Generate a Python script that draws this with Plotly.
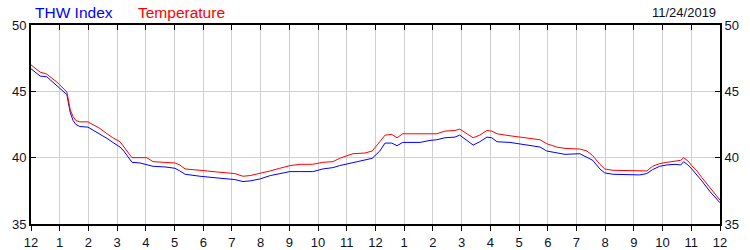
import plotly.graph_objects as go

# minutes since 12 (noon) of the 24-hour window
minutes = [0, 19, 33, 54, 71, 75, 82, 88, 94, 102, 119, 134, 144, 159, 171, 186, 194, 203, 211,
           228, 242, 255, 280, 301, 311, 322, 353, 374, 395, 426, 443, 458, 479, 500, 520, 541,
           562, 589, 610, 631, 645, 673, 698, 713, 729, 740, 754, 765, 777, 813, 834, 848, 865,
           886, 896, 911, 924, 938, 953, 963, 974, 1001, 1022, 1043, 1064, 1078, 1099, 1116,
           1147, 1162, 1174, 1189, 1199, 1216, 1258, 1272, 1287, 1299, 1314, 1329, 1346, 1358,
           1364, 1373, 1381, 1392, 1402, 1419, 1440]

temperature = [47.0, 46.45, 46.3, 45.7, 45.1, 44.95, 43.6, 43.1, 42.8, 42.7, 42.7, 42.4, 42.2,
               41.8, 41.5, 41.2, 40.8, 40.4, 40.0, 40.0, 40.0, 39.7, 39.65, 39.6, 39.45, 39.15,
               39.05, 39.0, 38.9, 38.8, 38.6, 38.65, 38.8, 39.0, 39.2, 39.4, 39.5, 39.5, 39.65,
               39.7, 39.95, 40.3, 40.35, 40.5, 41.2, 41.7, 41.75, 41.5, 41.8, 41.8, 41.85, 41.8,
               42.0, 42.05, 42.15, 41.8, 41.5, 41.7, 42.05, 42.0, 41.8, 41.65, 41.55, 41.4, 41.35,
               41.05, 40.8, 40.7, 40.65, 40.5, 40.15, 39.5, 39.15, 39.05, 39.05, 39.0, 39.0,
               39.35, 39.55, 39.65, 39.75, 39.8, 40.0, 39.75, 39.4, 39.0, 38.5, 37.7, 36.8]

thw_index = [46.7, 46.15, 46.1, 45.45, 44.85, 44.75, 43.4, 42.8, 42.5, 42.35, 42.3, 42.0, 41.8,
             41.45, 41.15, 40.8, 40.5, 40.05, 39.65, 39.6, 39.5, 39.35, 39.3, 39.2, 39.0, 38.75,
             38.6, 38.5, 38.45, 38.35, 38.2, 38.25, 38.4, 38.65, 38.8, 38.95, 38.95, 38.95, 39.15,
             39.25, 39.4, 39.65, 39.85, 39.95, 40.5, 41.1, 41.1, 40.9, 41.15, 41.15, 41.3, 41.35,
             41.5, 41.55, 41.7, 41.3, 40.95, 41.2, 41.55, 41.5, 41.2, 41.15, 41.05, 40.9, 40.8,
             40.5, 40.35, 40.25, 40.3, 40.0, 39.8, 39.15, 38.85, 38.75, 38.75, 38.7, 38.8,
             39.1, 39.35, 39.45, 39.5, 39.45, 39.7, 39.45, 39.15, 38.7, 38.25, 37.45, 36.6]

hour_ticks = list(range(0, 1441, 60))
hour_labels = ["12", "1", "2", "3", "4", "5", "6", "7", "8", "9", "10", "11",
               "12", "1", "2", "3", "4", "5", "6", "7", "8", "9", "10", "11", "12"]
y_ticks = [35, 40, 45, 50]
date_label = "11/24/2019"

FONT = "Liberation Sans"
TXT = "#101028"
GRID = "#d0d0d0"

fig = go.Figure()
fig.add_trace(go.Scatter(x=minutes, y=thw_index, mode="lines", name="THW Index",
                         line=dict(color="#0000ff", width=1)))
fig.add_trace(go.Scatter(x=minutes, y=temperature, mode="lines", name="Temperature",
                         line=dict(color="#ff0000", width=1)))
# invisible helpers so the mirrored axes are drawn
fig.add_trace(go.Scatter(x=[0], y=[40], xaxis="x2", yaxis="y2", mode="markers",
                         marker=dict(opacity=0), showlegend=False, hoverinfo="skip"))

common_x = dict(range=[0, 1440], tickvals=hour_ticks, showline=True, linecolor="black",
                linewidth=2, ticklen=5, tickcolor="black", tickwidth=1, zeroline=False,
                automargin=False)
common_y = dict(range=[35, 50], tickvals=y_ticks, showline=True, linecolor="black",
                linewidth=2, ticks="inside", ticklen=5, tickcolor="black", tickwidth=1,
                zeroline=False, automargin=False,
                tickfont=dict(family=FONT, size=13, color=TXT))

fig.update_layout(
    width=750, height=250,
    margin=dict(l=31, r=30, t=25, b=26),
    plot_bgcolor="white", paper_bgcolor="white",
    showlegend=False,
    xaxis=dict(**common_x, ticks="outside", ticktext=hour_labels, showgrid=True,
               gridcolor=GRID, gridwidth=1,
               tickfont=dict(family=FONT, size=13, color=TXT)),
    xaxis2=dict(**common_x, overlaying="x", side="top", ticks="inside",
                showticklabels=False, showgrid=False),
    yaxis=dict(**common_y, side="left", showgrid=True, gridcolor=GRID, gridwidth=1),
    yaxis2=dict(**common_y, overlaying="y", side="right", showgrid=False),
    annotations=[
        dict(text="THW Index", x=33, y=12, xref="paper", yref="paper", showarrow=False,
             font=dict(family=FONT, size=15.5, color="#0000ff"), xanchor="left", yanchor="middle"),
        dict(text="Temperature", x=136, y=12, xref="paper", yref="paper", showarrow=False,
             font=dict(family=FONT, size=15.5, color="#ff0000"), xanchor="left", yanchor="middle"),
        dict(text=date_label, x=718, y=12, xref="paper", yref="paper", showarrow=False,
             font=dict(family=FONT, size=13, color=TXT), xanchor="right", yanchor="middle"),
    ],
)

# convert pixel-placed annotations to paper coordinates
pw = 750 - 31 - 30
ph = 250 - 25 - 26
for a in fig.layout.annotations:
    a.x = (a.x - 31) / pw
    a.y = (250 - 26 - a.y) / ph

fig.write_html("out.html")
